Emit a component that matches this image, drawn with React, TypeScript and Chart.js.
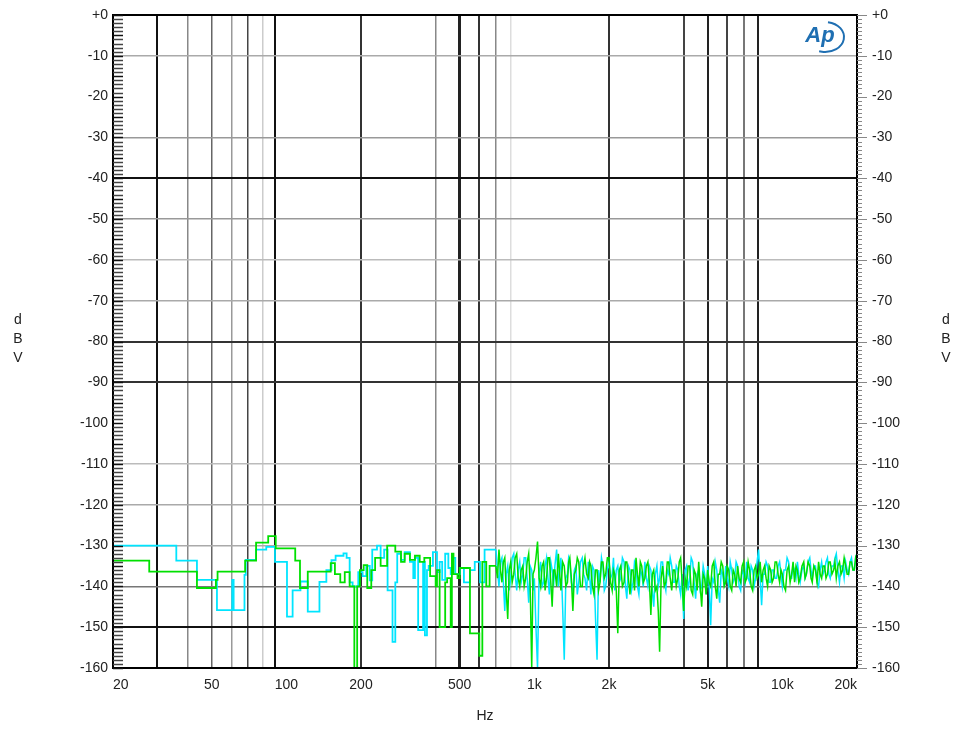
import React, { useEffect, useRef } from 'react';
import { Chart, registerables } from 'chart.js';

Chart.register(...registerables);

// ---------- data ----------
const cyanLowHz = [20, 36, 43.6, 52.5, 60.5, 61.3, 67.8, 68.6, 75.5, 83, 90, 100.6, 106, 114, 122, 136, 145, 152, 158, 170, 175, 180, 185, 195, 203, 210, 217, 222, 232, 240, 248, 256, 268, 275, 280, 290, 300, 315, 325, 330, 340, 356, 362, 369, 375, 390, 405, 415, 425, 437, 450, 460, 469, 480, 501, 520, 550, 575, 604, 630, 675, 700];
const cyanLowDb = [-128.5, -130, -133.7, -138.4, -145.8, -138.4, -145.8, -137.2, -133.5, -131, -130.3, -134, -147.4, -141, -138.8, -146.2, -138.9, -136, -133.6, -132.5, -131.9, -133, -139, -140, -136.5, -137.5, -135, -138.5, -131, -130, -133, -131, -141, -153.6, -139, -132, -133.5, -131.6, -134, -138, -133, -150.7, -134, -152, -136, -135, -131.6, -136.5, -134, -138.4, -132, -135.5, -137, -133, -137, -135.5, -139, -136, -134, -139, -131, -131];

const greenLowHz = [20, 28, 43.6, 52, 52.8, 68.2, 75.5, 84.5, 90.6, 108.6, 113.5, 122, 151, 157, 165, 172, 180, 188, 193, 198, 205, 212, 220, 228, 240, 255, 275, 290, 300, 315, 330, 345, 360, 380, 400, 405, 415, 437, 445, 460, 465, 472, 490, 500, 550, 600, 617, 640, 660, 700];
const greenLowDb = [-132.3, -133.7, -136.4, -140.4, -138.4, -136.4, -133.7, -129.3, -127.7, -130.7, -133.7, -140.4, -136.4, -134.3, -137, -139, -136.5, -140, -160, -140, -136, -134.8, -140.4, -136, -133, -135, -130, -131.5, -134, -132, -133.5, -132.5, -134, -133, -137.5, -140, -136, -150, -139, -138, -150, -132, -137, -138, -135.5, -151.5, -157, -134, -140, -135];

const noiseHz = [
  700, 710, 720, 730, 740, 750, 760, 770, 781, 792, 803, 814, 826, 837, 849, 861, 873, 885, 898, 910,
  923, 936, 949, 962, 976, 988, 1000, 1015, 1030, 1045, 1060, 1075, 1090, 1105, 1120, 1135, 1150, 1165, 1180, 1195,
  1210, 1230, 1250, 1265, 1280, 1300, 1320, 1340, 1360, 1375, 1390, 1410, 1430, 1450, 1470, 1490, 1510, 1535, 1560, 1580,
  1600, 1625, 1650, 1670, 1690, 1715, 1740, 1765, 1790, 1815, 1840, 1865, 1890, 1915, 1940, 1970, 2000, 2030, 2060, 2085,
  2110, 2140, 2170, 2200, 2230, 2265, 2300, 2330, 2360, 2395, 2430, 2465, 2500, 2535, 2570, 2605, 2640, 2675, 2710, 2750,
  2790, 2830, 2870, 2910, 2950, 2990, 3030, 3075, 3120, 3160, 3200, 3245, 3290, 3340, 3390, 3435, 3480, 3530, 3580, 3630,
  3680, 3735, 3790, 3840, 3890, 3945, 4000, 4055, 4110, 4170, 4230, 4290, 4350, 4410, 4470, 4535, 4600, 4665, 4730, 4795,
  4860, 4930, 5000, 5070, 5140, 5215, 5290, 5365, 5440, 5515, 5590, 5670, 5750, 5830, 5910, 5995, 6080, 6165, 6250, 6335,
  6420, 6510, 6600, 6695, 6790, 6885, 6980, 7080, 7180, 7280, 7380, 7485, 7590, 7695, 7800, 7910, 8020, 8135, 8250, 8365,
  8480, 8600, 8720, 8845, 8970, 9095, 9220, 9350, 9480, 9615, 9750, 9875, 10000, 10150, 10300, 10450, 10600, 10750, 10900, 11050,
  11200, 11350, 11500, 11650, 11800, 12000, 12200, 12350, 12500, 12700, 12900, 13050, 13200, 13400, 13600, 13800, 14000, 14200, 14400, 14600,
  14800, 15000, 15200, 15400, 15600, 15850, 16100, 16300, 16500, 16750, 17000, 17250, 17500, 17750, 18000, 18250, 18500, 18750, 19000, 19250,
  19500, 19750, 20000,
];
const cyanNoiseDb = [
  -131, -136, -140, -134, -133, -139, -146, -137, -135, -141, -138, -133, -132, -137, -141, -136, -134, -139, -137, -133,
  -133, -138, -144, -135, -136, -141, -138, -150, -160, -137, -134, -140, -139, -135, -133, -138, -142, -134, -136, -140,
  -135, -131, -140, -136, -133, -145, -158, -138, -137, -133, -134, -139, -141, -136, -135, -142, -139, -134, -133, -137,
  -138, -141, -134, -137, -142, -135, -136, -148, -158, -136, -139, -133, -135, -141, -140, -136, -134, -138, -137, -133,
  -141, -136, -135, -139, -138, -133, -134, -140, -143, -135, -136, -141, -139, -134, -135, -140, -142, -136, -137, -140,
  -134, -138, -140, -135, -136, -141, -145, -137, -135, -140, -138, -134, -134, -139, -141, -136, -137, -133, -135, -139,
  -139, -135, -136, -140, -142, -137, -148, -136, -135, -141, -138, -133, -134, -139, -143, -137, -136, -141, -140, -135,
  -137, -142, -135, -140, -149.5, -138, -139, -134, -136, -141, -144, -136, -137, -140, -135, -138, -140, -134, -136, -139,
  -138, -134, -135, -140, -141, -136, -137, -139, -134, -138, -139, -135, -136, -140, -138, -134, -131, -138, -144.6, -137,
  -137, -134, -135, -139, -139, -136, -136, -138, -138, -135, -134, -137, -140, -136, -136, -133, -134, -138, -138, -135,
  -136, -138, -134, -137, -139, -136, -135, -138, -137, -134, -133, -136, -138, -135, -135, -139, -140, -136, -134, -137,
  -136, -134, -133, -137, -138, -135, -135, -133, -132, -136, -139, -135, -135, -138, -134, -136, -137, -134, -133, -136,
  -136, -133, -134,
];
const greenNoiseDb = [
  -135, -138, -131, -136, -139, -134, -133, -141, -148, -136, -134, -139, -137, -133, -132, -138, -140, -136, -135, -140,
  -138, -134, -132, -140, -160, -137, -136, -133, -129, -138, -140, -135, -134, -141, -138, -133, -133, -139, -145, -136,
  -136, -140, -132, -137, -141, -134, -135, -140, -139, -134, -133, -138, -146, -137, -136, -133, -134, -140, -140, -135,
  -133, -137, -138, -134, -135, -140, -142, -136, -136, -141, -139, -134, -134, -138, -137, -133, -133, -139, -141, -136,
  -137, -141, -151.5, -136, -135, -140, -139, -134, -134, -138, -142, -136, -136, -141, -133, -137, -140, -134, -135, -139,
  -138, -135, -134, -139, -147, -137, -136, -141, -140, -146, -156, -138, -135, -140, -139, -134, -134, -138, -141, -136,
  -136, -140, -138, -134, -133, -139, -146, -138, -140, -135, -135, -141, -142, -136, -137, -141, -134, -140, -145, -137,
  -138, -142, -136, -139, -140, -135, -134, -140, -143, -137, -137, -134, -135, -140, -139, -135, -136, -140, -141, -136,
  -137, -140, -135, -138, -139, -135, -134, -139, -138, -134, -136, -140, -141, -136, -135, -138, -137, -134, -139, -136,
  -135, -138, -140, -135, -136, -139, -138, -134, -134, -137, -139, -136, -137, -140, -141, -136, -135, -139, -137, -134,
  -139, -135, -136, -139, -138, -135, -134, -138, -137, -134, -135, -138, -139, -135, -136, -139, -134, -137, -138, -135,
  -135, -138, -137, -134, -134, -137, -136, -134, -138, -135, -134, -137, -136, -133, -135, -137, -137, -134, -134, -136,
  -136, -133, -134,
];

// vertical grid lines (Hz) and their shades
const vGridHz = [30, 40, 50, 60, 70, 80, 90, 200, 400, 500, 600, 700, 800, 2000, 4000, 5000, 6000, 7000, 8000];
const vGridColor = ['#111', '#888', '#666', '#999', '#444', '#ccc', '#111', '#333', '#888', '#222', '#333', '#888', '#ddd', '#333', '#444', '#222', '#444', '#777', '#222'];
const vGridWidth = [2, 1.5, 1.5, 1.5, 1.5, 1.5, 2, 2, 1.5, 3, 2, 1.5, 1.5, 2, 2, 2, 2, 2, 2];

// horizontal grid shades by dB value
const hGridDb = [0, -10, -20, -30, -40, -50, -60, -70, -80, -90, -100, -110, -120, -130, -140, -150, -160];
const hGridColor = ['#000', '#aaa', 'rgba(0,0,0,0)', '#999', '#111', '#999', '#bbb', '#aaa', '#333', '#333', 'rgba(0,0,0,0)', '#bbb', '#aaa', '#aaa', '#777', '#111', '#000'];

const xLabelHz = [20, 50, 100, 200, 500, 1000, 2000, 5000, 10000, 20000];
const xLabelText = ['20', '50', '100', '200', '500', '1k', '2k', '5k', '10k', '20k'];

const FONT = "'Liberation Sans', Arial, sans-serif";

const pts = (xs: number[], ys: number[]) => xs.map((x, i) => ({ x, y: ys[i] }));

const decorPlugin = {
  id: 'decor',
  afterDraw(chart: any) {
    const { ctx, chartArea: ca, scales } = chart;
    const y = scales.y;
    const x = scales.x;
    ctx.save();
    // frame
    ctx.strokeStyle = '#000';
    ctx.lineWidth = 2;
    ctx.strokeRect(ca.left, ca.top, ca.right - ca.left, ca.bottom - ca.top);
    // left inner ticks every 1 dB, right outer ticks
    for (let v = 0; v >= -160; v -= 1) {
      const py = Math.round(y.getPixelForValue(v)) + 0.5;
      ctx.strokeStyle = v % 5 === 0 ? '#111' : '#444';
      ctx.lineWidth = 1.5;
      ctx.beginPath();
      ctx.moveTo(ca.left, py);
      ctx.lineTo(ca.left + 10, py);
      ctx.stroke();
      ctx.strokeStyle = '#888';
      ctx.lineWidth = 1;
      ctx.beginPath();
      ctx.moveTo(ca.right, py);
      ctx.lineTo(ca.right + (v % 10 === 0 ? 10 : 5), py);
      ctx.stroke();
    }
    // x labels
    ctx.fillStyle = '#222';
    ctx.font = `14px ${FONT}`;
    ctx.textBaseline = 'middle';
    xLabelHz.forEach((hz, i) => {
      const px = x.getPixelForValue(hz);
      ctx.textAlign = i === 0 ? 'left' : i === xLabelHz.length - 1 ? 'right' : 'center';
      ctx.fillText(xLabelText[i], px, ca.bottom + 17);
    });
    // axis titles
    ctx.textAlign = 'center';
    ctx.fillText('Hz', (ca.left + ca.right) / 2, ca.bottom + 48);
    const letters = ['d', 'B', 'V'];
    letters.forEach((l, i) => {
      ctx.fillText(l, 18, 320 + i * 19);
      ctx.fillText(l, 946, 320 + i * 19);
    });
    // Ap logo
    ctx.fillStyle = '#1f6fb2';
    ctx.strokeStyle = '#1f6fb2';
    ctx.font = `italic bold 22px ${FONT}`;
    ctx.textAlign = 'center';
    ctx.fillText('Ap', ca.right - 37, ca.top + 21);
    ctx.lineWidth = 2;
    ctx.beginPath();
    ctx.ellipse(ca.right - 32, ca.top + 22, 19, 15, 0, -Math.PI * 0.45, Math.PI * 0.6);
    ctx.stroke();
    ctx.restore();
  },
};

export default function App() {
  const ref = useRef<HTMLCanvasElement>(null);
  useEffect(() => {
    const chart = new Chart(ref.current as HTMLCanvasElement, {
      type: 'line',
      data: {
        datasets: [
          { data: pts(noiseHz, greenNoiseDb), borderColor: '#00e000', borderWidth: 1.5, pointRadius: 0 },
          { data: pts(greenLowHz, greenLowDb), borderColor: '#00e000', borderWidth: 1.8, pointRadius: 0, stepped: 'after' },
          { data: pts(noiseHz, cyanNoiseDb), borderColor: '#00e5ff', borderWidth: 1.5, pointRadius: 0 },
          { data: pts(cyanLowHz, cyanLowDb), borderColor: '#00e5ff', borderWidth: 1.8, pointRadius: 0, stepped: 'after' },
        ],
      },
      plugins: [decorPlugin],
      options: {
        animation: false,
        responsive: true,
        maintainAspectRatio: false,
        layout: { padding: { top: 15, left: 0, right: 0, bottom: 0 } },
        plugins: { legend: { display: false }, tooltip: { enabled: false } },
        elements: { line: { tension: 0 } },
        scales: {
          x: {
            type: 'logarithmic',
            min: 20,
            max: 20000,
            position: 'bottom',
            afterBuildTicks: (s: any) => { s.ticks = vGridHz.map((v) => ({ value: v })); },
            afterFit: (s: any) => { s.height = 61; s.paddingLeft = 0; s.paddingRight = 0; },
            grid: {
              drawTicks: false,
              color: (c: any) => vGridColor[c.index] ?? 'rgba(0,0,0,0)',
              lineWidth: (c: any) => vGridWidth[c.index] ?? 0,
            },
            border: { display: false },
            ticks: { display: false },
          },
          y: {
            type: 'linear',
            min: -160,
            max: 0,
            position: 'left',
            afterBuildTicks: (s: any) => { s.ticks = hGridDb.map((v) => ({ value: v })); },
            afterFit: (s: any) => { s.width = 113; s.paddingTop = 0; s.paddingBottom = 0; },
            ticks: {
              callback: (v: any) => (v === 0 ? '+0' : String(v)),
              font: { family: FONT, size: 14 },
              color: '#222',
              padding: 5,
            },
            grid: {
              drawTicks: false,
              color: (c: any) => hGridColor[hGridDb.indexOf(c.tick?.value)] ?? 'rgba(0,0,0,0)',
              lineWidth: (c: any) => ([-40, -80, -90, -150].includes(c.tick?.value) ? 2 : 1.5),
            },
            border: { display: false },
          },
          y2: {
            type: 'linear',
            min: -160,
            max: 0,
            position: 'right',
            afterBuildTicks: (s: any) => { s.ticks = hGridDb.map((v) => ({ value: v })); },
            afterFit: (s: any) => { s.width = 104; s.paddingTop = 0; s.paddingBottom = 0; },
            ticks: {
              callback: (v: any) => (v === 0 ? '+0' : String(v)),
              font: { family: FONT, size: 14 },
              color: '#222',
              padding: 15,
            },
            grid: { display: false, drawTicks: false },
            border: { display: false },
          },
        },
      },
    });
    return () => chart.destroy();
  }, []);
  return (
    <div style={{ position: 'fixed', left: 0, top: 0, width: 961, height: 729, background: '#fff' }}>
      <canvas ref={ref} />
    </div>
  );
}
